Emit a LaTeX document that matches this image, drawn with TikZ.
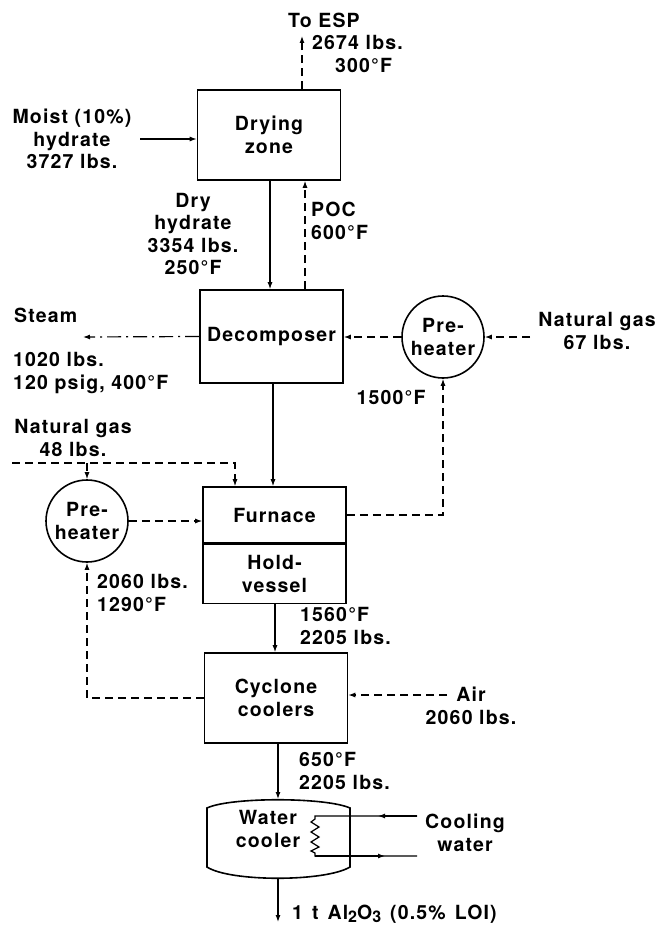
\documentclass[tikz,border=0pt]{standalone}
\usepackage{fontspec}
\setmainfont{TeX Gyre Heros}[LetterSpace=6]
\usetikzlibrary{arrows.meta}
\newcommand{\mysub}[1]{\raisebox{-0.35ex}{\fontsize{16}{16}\selectfont #1}}
\begin{document}
\begin{tikzpicture}[x=1pt,y=-1pt,
  font=\fontsize{19.5}{22.5}\selectfont\bfseries,
  unit/.style={draw, line width=1.6pt, minimum width=143pt, inner sep=0pt, align=center},
  heater/.style={draw, circle, line width=1.6pt, minimum size=82pt, inner sep=0pt, align=center},
  lbl/.style={inner sep=0pt, align=center},
  flow/.style={line width=1.2pt, -{Latex[length=7pt,width=5pt]}},
  gas/.style={flow, dash pattern=on 8pt off 5pt},
  steam/.style={flow, dash pattern=on 14pt off 5pt on 2pt off 5pt},
  plain/.style={line width=1.2pt},
]
\useasboundingbox (0,0) rectangle (660,925);

% units
\node[unit, minimum height=90pt] (dry) at (269,135) {Drying\\zone};
\node[unit, minimum height=93pt] (dec) at (271.5,336.5) {Decomposer};
\node[unit, minimum height=56pt] (fur) at (274.5,515) {Furnace};
\node[unit, minimum height=59pt, anchor=north] (hold) at (fur.south) {Hold-\\vessel};
\node[unit, minimum height=90pt] (cyc) at (276,698) {Cyclone\\coolers};
\node[heater] (ph1) at (443,337) {Pre-\\heater};
\node[heater] (ph2) at (87,521) {Pre-\\heater};

% water cooler
\draw[line width=1.6pt] (207,808) .. controls (230,797) and (325,797) .. (350,808) -- (350,867)
  .. controls (325,882) and (230,882) .. (207,867) -- cycle;
\node[lbl] (wc) at (268,829) {Water\\cooler};
\coordinate (wctop) at (278,799);
\coordinate (wcbot) at (278,878);

% labels
\node[lbl] (moist) at (72,139) {Moist (10\%)\\hydrate\\3727 lbs.};
\node[lbl, anchor=west] (esp1) at (288,20) {To ESP};
\node[lbl, anchor=west] (esp2) at (312,42) {2674 lbs.};
\node[lbl, anchor=west] (esp3) at (335,65) {300°F};
\node[lbl] (dryh) at (193,234) {Dry\\hydrate\\3354 lbs.\\250°F};
\node[lbl, align=left, anchor=west] (poc) at (311,221) {POC\\600°F};
\node[lbl, anchor=west] (steam) at (14,315) {Steam};
\node[lbl, align=left, anchor=west] (steamd) at (13,373) {1020 lbs.\\120 psig, 400°F};
\node[lbl] (ng67) at (597,331) {Natural gas\\67 lbs.};
\node[lbl] (t1500) at (391,397) {1500°F};
\node[lbl] (ng48) at (73,438) {Natural gas\\48 lbs.};
\node[lbl, align=left, anchor=west] (a2060) at (97,593) {2060 lbs.\\1290°F};
\node[lbl, align=left, anchor=west] (t1560) at (300,626) {1560°F\\2205 lbs.};
\node[lbl] (air) at (471,706) {Air\\2060 lbs.};
\node[lbl, align=left, anchor=west] (t650) at (299,771) {650°F\\2205 lbs.};
\node[lbl] (cw) at (465,833) {Cooling\\water};
\node[lbl, anchor=west] (prodl) at (292,914) {1\hspace{9pt}t\hspace{9pt}Al\mysub{2}O\mysub{3}\hspace{9pt}(0.5\%\hspace{9pt}LOI)};

% coordinates for free ends
\coordinate (m1) at (140,139);
\coordinate (esp) at (302,36);
\coordinate (xdry) at (270,0);
\coordinate (xpoc) at (305,0);
\coordinate (steamend) at (83,337);
\coordinate (ng67s) at (530,337);
\coordinate (xdec) at (273,0);
\coordinate (ng48s) at (12,463);
\coordinate (xng) at (235,0);
\coordinate (xhold) at (275,0);
\coordinate (airs) at (447,695);
\coordinate (prod) at (278,922);
\coordinate (cwin) at (417,816);
\coordinate (cwout) at (417,856);

% connectors
\draw[flow] (m1) -- (dry.west |- m1);
\draw[gas] (dry.north -| esp) -- (esp);
\draw[flow] (dry.south -| xdry) -- (dec.north -| xdry);
\draw[gas] (dec.north -| xpoc) -- (dry.south -| xpoc);
\draw[steam] (dec.west) -- (steamend);
\draw[gas] (ph1.west) -- (dec.east |- ph1.west);
\draw[gas] (ng67s) -- (ph1.east);
\draw[gas] (fur.east) -| (ph1.south);
\draw[flow] (dec.south -| xdec) -- (fur.north -| xdec);
\draw[gas] (ng48s) -| (fur.north -| xng);
\draw[gas] (ph2.north |- ng48s) -- (ph2.north);
\draw[gas] (ph2.east) -- (fur.west |- ph2.east);
\draw[gas] (cyc.west) -| (ph2.south);
\draw[flow] (hold.south -| xhold) -- (cyc.north -| xhold);
\draw[gas] (airs) -- (cyc.east |- airs);
\draw[flow] (cyc.south -| wctop) -- (wctop);
\draw[flow] (wcbot) -- (prod);

% cooling coil
\draw[plain] (cwin) -- (315,816) -- (315,819) -- (311,822) -- (319,827) -- (311,832) -- (319,837)
  -- (311,842) -- (319,847) -- (311,851) -- (315,853) -- (315,856) -- (cwout);
\draw[flow] (cwin) -- (378,816);
\draw[flow] (315,856) -- (385,856);
\end{tikzpicture}
\end{document}
